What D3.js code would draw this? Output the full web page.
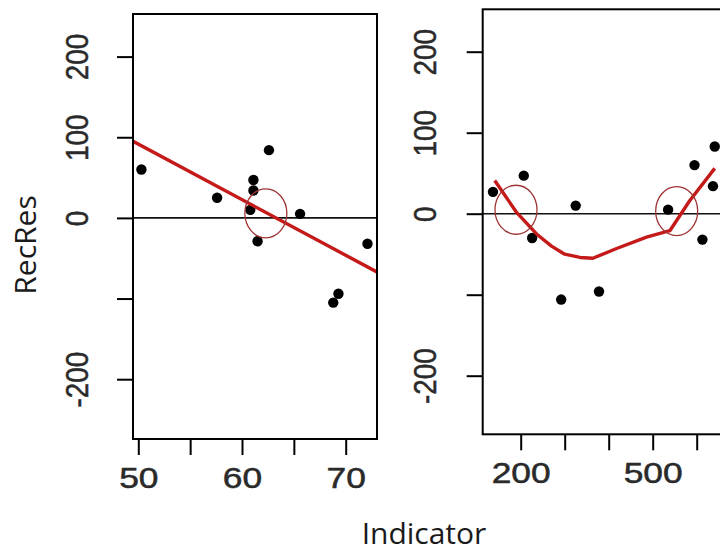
<!DOCTYPE html>
<html>
<head>
<meta charset="utf-8">
<script src="https://cdn.jsdelivr.net/npm/d3@7"></script>
<style>
  html, body { margin: 0; padding: 0; background: #fff; }
  svg { display: block; }
</style>
</head>
<body>
<svg id="chart" width="720" height="554"></svg>
<script>
// ---- data ----------------------------------------------------------------
// Left panel: residual vs indicator with a straight-line fit
const leftIndicator = [50.3, 57.6, 61.1, 61.1, 60.8, 62.6, 61.5, 65.6, 72.1, 69.3, 68.8];
const leftRecRes    = [60, 25, 47, 34, 10, 84, -29, 5, -32, -94, -105];
const leftFitX = [49.5, 73.0];
const leftFitY = [95, -67];
const leftMarkX = [62.3];
const leftMarkY = [5.7];

// Right panel: residual vs indicator with a smoothed trend
const rightIndicator = [137, 207, 226, 325, 292, 378, 535, 595, 641, 637, 613];
const rightRecRes    = [27, 47, -30, 10, -106, -96, 5, 60, 83, 34, -32];
const rightSmoothX = [141, 190, 236, 270, 300, 335, 364, 418, 486, 539, 584, 641];
const rightSmoothY = [41, 2, -25, -40, -50, -54, -55, -43, -29, -21, 16, 56];
const rightMarkX = [189.3, 554.5];
const rightMarkY = [4.9, 3.2];

// Tick positions and their printed labels
const yTicks = [-200, -100, 0, 100, 200];
const yTickLabels = ["-200", "", "0", "100", "200"];
const leftXTicks = [50, 55, 60, 65, 70];
const leftXTickLabels = ["50", "", "60", "", "70"];
const rightXTicks = [200, 300, 400, 500, 600];
const rightXTickLabels = ["200", "", "", "500", ""];

const xTitle = "Indicator";
const yTitle = "RecRes";

// ---- drawing -------------------------------------------------------------
const svg = d3.select("#chart");
const FIT_RED = "#c41a1a";
const MARK_RED = "#9e3434";
const TICK_FONT = "'Liberation Sans', Arial, sans-serif";
const TITLE_FONT = "'Open Sans', sans-serif";

function styleTickText(sel, size) {
  sel.attr("fill", "#2a2a2a")
    .attr("stroke", "#2a2a2a").attr("stroke-width", 0.5)
    .style("font-family", TICK_FONT).style("font-size", size + "px");
}

function drawPanel(p) {
  const g = svg.append("g");
  const x = d3.scaleLinear().domain(p.xDomain).range(p.xRange);
  const y = d3.scaleLinear().domain([-200, 200]).range(p.yRange);

  const clipId = "clip-" + p.id;
  g.append("clipPath").attr("id", clipId)
    .append("rect")
    .attr("x", p.box[0]).attr("y", p.box[1])
    .attr("width", p.box[2] - p.box[0]).attr("height", p.box[3] - p.box[1]);

  const plot = g.append("g").attr("clip-path", `url(#${clipId})`);

  // horizontal reference at zero
  plot.append("line")
    .attr("x1", p.box[0]).attr("x2", p.box[2])
    .attr("y1", y(0)).attr("y2", y(0))
    .attr("stroke", "#111").attr("stroke-width", 1.6);

  // points
  plot.selectAll("circle.pt")
    .data(d3.zip(p.xs, p.ys))
    .join("circle").attr("class", "pt")
    .attr("cx", d => x(d[0])).attr("cy", d => y(d[1]))
    .attr("r", 5.2).attr("fill", "#000");

  // trend line
  const line = d3.line().x(d => x(d[0])).y(d => y(d[1])).curve(d3.curveLinear);
  plot.append("path")
    .datum(d3.zip(p.lineX, p.lineY))
    .attr("d", line)
    .attr("fill", "none").attr("stroke", FIT_RED)
    .attr("stroke-width", 3.4).attr("stroke-linejoin", "round");

  // highlighted crossings
  plot.selectAll("ellipse.mark")
    .data(d3.zip(p.markX, p.markY))
    .join("ellipse").attr("class", "mark")
    .attr("cx", d => x(d[0])).attr("cy", d => y(d[1]))
    .attr("rx", 21).attr("ry", 24.5)
    .attr("fill", "none").attr("stroke", MARK_RED).attr("stroke-width", 1.3);

  // frame
  g.append("rect")
    .attr("x", p.box[0]).attr("y", p.box[1])
    .attr("width", p.box[2] - p.box[0]).attr("height", p.box[3] - p.box[1])
    .attr("fill", "none").attr("stroke", "#000").attr("stroke-width", 2);

  // bottom axis
  const xAxis = g.append("g")
    .attr("transform", `translate(0,${p.box[3]})`)
    .call(d3.axisBottom(x).tickValues(p.xTicks).tickSize(16)
      .tickFormat((d, i) => p.xLabels[i]));
  xAxis.select(".domain").remove();
  xAxis.selectAll(".tick line").attr("stroke", "#000").attr("stroke-width", 2);
  xAxis.selectAll(".tick text")
    .attr("y", 0).attr("dy", 0)
    .attr("transform", "translate(0,49) scale(1.22,1)")
    .call(styleTickText, 29);

  // left axis
  const yAxis = g.append("g")
    .attr("transform", `translate(${p.box[0]},0)`)
    .call(d3.axisLeft(y).tickValues(yTicks).tickSize(16)
      .tickFormat((d, i) => yTickLabels[i]));
  yAxis.select(".domain").remove();
  yAxis.selectAll(".tick line").attr("stroke", "#000").attr("stroke-width", 2);
  yAxis.selectAll(".tick text")
    .attr("x", 0).attr("dy", 0)
    .attr("text-anchor", "middle")
    .attr("transform", `translate(${-p.yLabelGap},0) rotate(-90) scale(0.9,1)`)
    .call(styleTickText, 31);
}

drawPanel({
  id: "left",
  box: [133, 14, 377, 439],
  xDomain: [50, 70], xRange: [138.3, 345.7],
  yRange: [379.2, 56.6],
  xs: leftIndicator, ys: leftRecRes,
  lineX: leftFitX, lineY: leftFitY,
  markX: leftMarkX, markY: leftMarkY,
  xTicks: leftXTicks, xLabels: leftXTickLabels,
  yLabelGap: 45
});

drawPanel({
  id: "right",
  box: [482.7, 9.3, 740, 434.3],
  xDomain: [200, 500], xRange: [520.7, 652.7],
  yRange: [375.7, 51.7],
  xs: rightIndicator, ys: rightRecRes,
  lineX: rightSmoothX, lineY: rightSmoothY,
  markX: rightMarkX, markY: rightMarkY,
  xTicks: rightXTicks, xLabels: rightXTickLabels,
  yLabelGap: 47
});

// axis titles
svg.append("text")
  .attr("transform", "translate(36,245) rotate(-90)")
  .attr("text-anchor", "middle")
  .attr("fill", "#1a1a1a")
  .style("font-family", TITLE_FONT).style("font-size", "30px")
  .text(yTitle);

svg.append("text")
  .attr("x", 424).attr("y", 544)
  .attr("text-anchor", "middle")
  .attr("fill", "#1a1a1a")
  .style("font-family", TITLE_FONT).style("font-size", "30px")
  .text(xTitle);
</script>
</body>
</html>
